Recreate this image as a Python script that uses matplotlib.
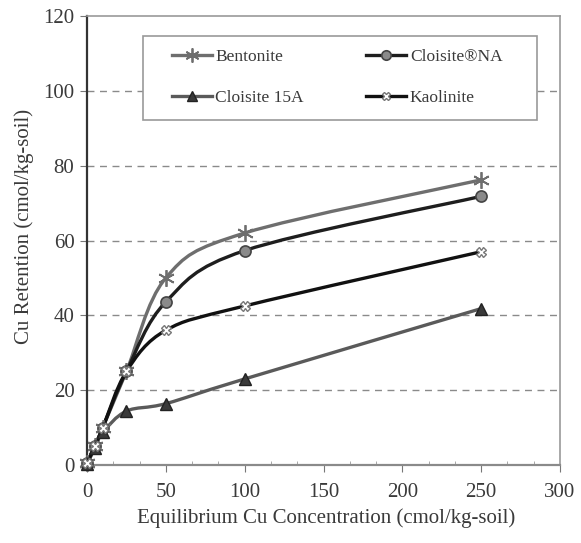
import matplotlib
matplotlib.use('Agg')
import matplotlib.pyplot as plt
import numpy as np
from matplotlib.path import Path
from matplotlib.patches import PathPatch, Rectangle
from matplotlib.lines import Line2D

# data
conc = [0, 5, 10, 25, 50, 100, 250]
bentonite = [0.5, 5, 10, 25, 50, 62, 76.2]
cloisite_na = [0.5, 5, 10, 25, 43.6, 57.3, 71.8]
cloisite_15a = [0.3, 4.5, 8.7, 14.4, 16.4, 23, 41.8]
kaolinite = [0.5, 5, 10, 25, 36, 42.5, 57]

series_names = ['Bentonite', 'Cloisite\u00aeNA', 'Cloisite 15A', 'Kaolinite']
x_ticks = [0, 50, 100, 150, 200, 250, 300]
y_ticks = [0, 20, 40, 60, 80, 100, 120]

plt.rcParams['font.family'] = ['Liberation Serif', 'DejaVu Serif']
txt = '#3a3a3a'


def smooth_path(x, y):
    # Excel-like smoothed line: cubic bezier through the points
    p = np.column_stack([x, y]).astype(float)
    n = len(p)
    verts = [p[0]]
    codes = [Path.MOVETO]
    for i in range(n - 1):
        p0 = p[i - 1] if i > 0 else p[i]
        p3 = p[i + 2] if i + 2 < n else p[i + 1]
        c1 = p[i] + (p[i + 1] - p0) / 6.0
        c2 = p[i + 1] - (p3 - p[i]) / 6.0
        verts += [c1, c2, p[i + 1]]
        codes += [Path.CURVE4] * 3
    return Path(verts, codes)


W, H = 581, 543
L, R, T, B = 87, 560, 16, 465
fig = plt.figure(figsize=(W / 100, H / 100), dpi=100)
ax = fig.add_axes([L / W, 1 - B / H, (R - L) / W, (B - T) / H])


def ax_xy(px, py):
    return (px - L) / (R - L), (B - py) / (B - T)


styles = [
    dict(color='#6e6e6e', marker=(6, 2, 0), ms=12, mfc='#6e6e6e', mec='#6e6e6e', mew=1.3),
    dict(color='#1e1e1e', marker='o', ms=8, mfc='#8a8a8a', mec='#444444', mew=1.2),
    dict(color='#5a5a5a', marker='^', ms=9, mfc='#3a3a3a', mec='#222222', mew=1.0),
    dict(color='#111111', marker='X', ms=7, mfc='white', mec='#777777', mew=1.0),
]
data = [bentonite, cloisite_na, cloisite_15a, kaolinite]

handles = []
for name, vals, st in zip(series_names, data, styles):
    ax.add_patch(PathPatch(smooth_path(conc, vals), fill=False,
                           edgecolor=st['color'], lw=2.4, zorder=3))
    ax.plot(conc, vals, linestyle='none', marker=st['marker'], ms=st['ms'],
            mfc=st['mfc'], mec=st['mec'], mew=st['mew'], zorder=4, clip_on=False)
    handles.append(Line2D([], [], color=st['color'], lw=2.4, marker=st['marker'],
                          ms=st['ms'] * 0.85, mfc=st['mfc'], mec=st['mec'], mew=st['mew']))

ax.set_xlim(0, 300)
ax.set_ylim(0, 120)
ax.set_xticks(x_ticks)
ax.set_yticks(y_ticks)
ax.set_xticks(np.arange(0, 301, 50 / 3), minor=True)
ax.tick_params(axis='both', which='major', direction='out', length=5,
               colors='#777777', labelcolor=txt, labelsize=15)
ax.tick_params(axis='x', which='minor', direction='in', length=3, colors='#999999')
ax.tick_params(axis='x', pad=8)
ax.tick_params(axis='y', pad=4)

for y in y_ticks[1:-1]:
    ax.axhline(y, color='#8a8a8a', lw=1, ls=(0, (5, 4)), zorder=1)

ax.spines['left'].set_color('#333333')
ax.spines['left'].set_linewidth(1.6)
ax.spines['bottom'].set_color('#8a8a8a')
ax.spines['bottom'].set_linewidth(1.6)
for s in ['top', 'right']:
    ax.spines[s].set_color('#999999')
    ax.spines[s].set_linewidth(1.2)

ax.set_xlabel('Equilibrium Cu Concentration (cmol/kg-soil)', fontsize=15, color=txt)
ax.xaxis.set_label_coords(ax_xy(326, 0)[0], ax_xy(0, 508)[1])
ax.set_ylabel('Cu Retention (cmol/kg-soil)', fontsize=15, color=txt)
ax.yaxis.set_label_coords(ax_xy(34, 0)[0], ax_xy(0, 226)[1])

# legend frame drawn by hand, legend entries row by row
fx, fy = ax_xy(143, 120)
fx2, fy2 = ax_xy(537, 36)
ax.add_patch(Rectangle((fx, fy), fx2 - fx, fy2 - fy, transform=ax.transAxes,
                       facecolor='white', edgecolor='#999999', lw=1.2, zorder=5))
order = [0, 2, 1, 3]
leg = ax.legend([handles[i] for i in order], [series_names[i] for i in order],
                ncol=2, loc='upper left', bbox_to_anchor=ax_xy(172, 49),
                frameon=False, fontsize=12.5,
                handlelength=2.3, handletextpad=0.2, columnspacing=3.6,
                labelspacing=1.4, borderpad=0, borderaxespad=0)
leg.set_zorder(6)
for t in leg.get_texts():
    t.set_color(txt)

fig.savefig('out.png', dpi=100)
